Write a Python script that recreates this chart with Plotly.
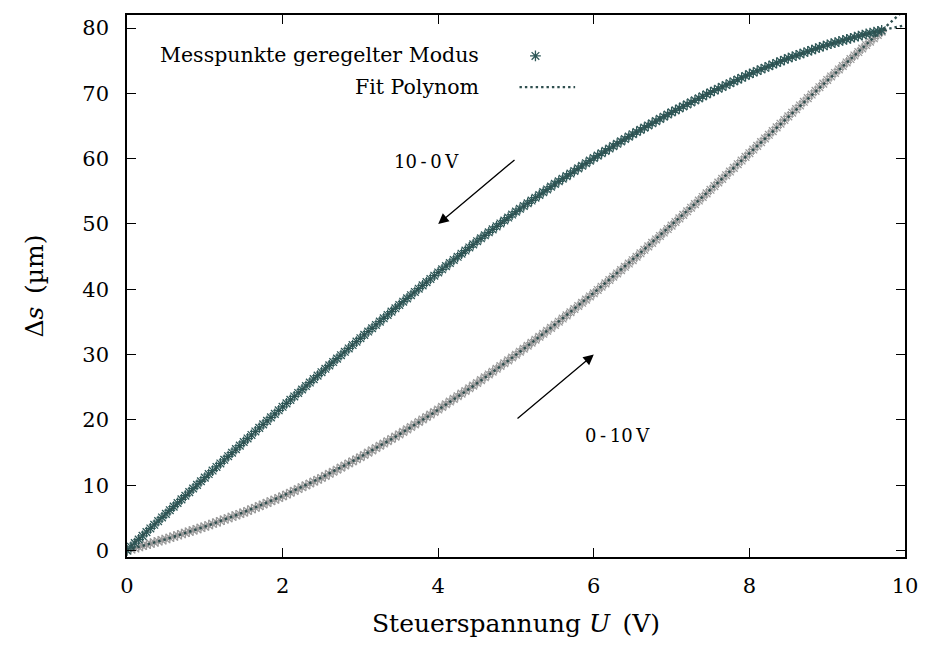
import numpy as np
import plotly.graph_objects as go

# Steuerspannung U (V) – common voltage grid of both sweeps
U = [0.00, 0.05, 0.10, 0.15, 0.20, 0.25, 0.30, 0.35, 0.40, 0.45,
     0.50, 0.55, 0.60, 0.65, 0.70, 0.75, 0.80, 0.85, 0.90, 0.95,
     1.00, 1.05, 1.10, 1.15, 1.20, 1.25, 1.30, 1.35, 1.40, 1.45,
     1.50, 1.55, 1.60, 1.65, 1.70, 1.75, 1.80, 1.85, 1.90, 1.95,
     2.00, 2.05, 2.10, 2.15, 2.20, 2.25, 2.30, 2.35, 2.40, 2.45,
     2.50, 2.55, 2.60, 2.65, 2.70, 2.75, 2.80, 2.85, 2.90, 2.95,
     3.00, 3.05, 3.10, 3.15, 3.20, 3.25, 3.30, 3.35, 3.40, 3.45,
     3.50, 3.55, 3.60, 3.65, 3.70, 3.75, 3.80, 3.85, 3.90, 3.95,
     4.00, 4.05, 4.10, 4.15, 4.20, 4.25, 4.30, 4.35, 4.40, 4.45,
     4.50, 4.55, 4.60, 4.65, 4.70, 4.75, 4.80, 4.85, 4.90, 4.95,
     5.00, 5.05, 5.10, 5.15, 5.20, 5.25, 5.30, 5.35, 5.40, 5.45,
     5.50, 5.55, 5.60, 5.65, 5.70, 5.75, 5.80, 5.85, 5.90, 5.95,
     6.00, 6.05, 6.10, 6.15, 6.20, 6.25, 6.30, 6.35, 6.40, 6.45,
     6.50, 6.55, 6.60, 6.65, 6.70, 6.75, 6.80, 6.85, 6.90, 6.95,
     7.00, 7.05, 7.10, 7.15, 7.20, 7.25, 7.30, 7.35, 7.40, 7.45,
     7.50, 7.55, 7.60, 7.65, 7.70, 7.75, 7.80, 7.85, 7.90, 7.95,
     8.00, 8.05, 8.10, 8.15, 8.20, 8.25, 8.30, 8.35, 8.40, 8.45,
     8.50, 8.55, 8.60, 8.65, 8.70, 8.75, 8.80, 8.85, 8.90, 8.95,
     9.00, 9.05, 9.10, 9.15, 9.20, 9.25, 9.30, 9.35, 9.40, 9.45,
     9.50, 9.55, 9.60, 9.65, 9.70]

# Delta s (um), sweep 10 -> 0 V (upper branch)
ds_down = [0.00, 0.56, 1.12, 1.68, 2.24, 2.81, 3.37, 3.93, 4.49, 5.05,
           5.61, 6.16, 6.72, 7.27, 7.83, 8.38, 8.93, 9.49, 10.04, 10.60,
           11.15, 11.70, 12.24, 12.79, 13.33, 13.88, 14.43, 14.97, 15.52, 16.06,
           16.61, 17.15, 17.69, 18.23, 18.77, 19.31, 19.84, 20.38, 20.92, 21.46,
           22.00, 22.53, 23.06, 23.59, 24.12, 24.65, 25.18, 25.71, 26.24, 26.77,
           27.30, 27.82, 28.34, 28.86, 29.38, 29.90, 30.42, 30.94, 31.46, 31.98,
           32.50, 33.01, 33.52, 34.03, 34.54, 35.05, 35.56, 36.07, 36.58, 37.09,
           37.60, 38.10, 38.60, 39.09, 39.59, 40.09, 40.59, 41.09, 41.58, 42.08,
           42.58, 43.06, 43.54, 44.01, 44.49, 44.97, 45.45, 45.93, 46.40, 46.88,
           47.36, 47.81, 48.27, 48.72, 49.17, 49.63, 50.08, 50.53, 50.98, 51.44,
           51.89, 52.32, 52.74, 53.17, 53.59, 54.02, 54.44, 54.87, 55.29, 55.72,
           56.14, 56.54, 56.93, 57.33, 57.72, 58.12, 58.51, 58.91, 59.30, 59.70,
           60.09, 60.46, 60.82, 61.19, 61.55, 61.92, 62.28, 62.65, 63.01, 63.38,
           63.74, 64.08, 64.41, 64.75, 65.08, 65.42, 65.75, 66.09, 66.42, 66.76,
           67.09, 67.40, 67.70, 68.01, 68.31, 68.62, 68.93, 69.23, 69.54, 69.84,
           70.15, 70.43, 70.71, 70.99, 71.27, 71.55, 71.82, 72.10, 72.38, 72.66,
           72.94, 73.19, 73.43, 73.68, 73.92, 74.17, 74.41, 74.66, 74.90, 75.15,
           75.39, 75.60, 75.80, 76.01, 76.21, 76.42, 76.62, 76.83, 77.03, 77.24,
           77.44, 77.61, 77.77, 77.94, 78.10, 78.27, 78.43, 78.60, 78.76, 78.93,
           79.09, 79.23, 79.37, 79.50, 79.64]

# Delta s (um), sweep 0 -> 10 V (lower branch)
ds_up = [0.00, 0.18, 0.35, 0.53, 0.70, 0.88, 1.05, 1.23, 1.40, 1.58,
         1.75, 1.94, 2.13, 2.32, 2.51, 2.70, 2.89, 3.08, 3.27, 3.46,
         3.65, 3.87, 4.08, 4.30, 4.51, 4.73, 4.94, 5.16, 5.37, 5.59,
         5.80, 6.05, 6.30, 6.54, 6.79, 7.04, 7.29, 7.54, 7.78, 8.03,
         8.28, 8.56, 8.84, 9.13, 9.41, 9.69, 9.97, 10.25, 10.54, 10.82,
         11.10, 11.42, 11.74, 12.05, 12.37, 12.69, 13.01, 13.33, 13.64, 13.96,
         14.28, 14.63, 14.98, 15.33, 15.68, 16.03, 16.38, 16.73, 17.08, 17.43,
         17.78, 18.16, 18.54, 18.92, 19.30, 19.68, 20.06, 20.44, 20.82, 21.20,
         21.58, 21.99, 22.39, 22.80, 23.21, 23.62, 24.02, 24.43, 24.84, 25.24,
         25.65, 26.08, 26.52, 26.95, 27.38, 27.82, 28.25, 28.68, 29.11, 29.55,
         29.98, 30.44, 30.89, 31.35, 31.81, 32.27, 32.72, 33.18, 33.64, 34.09,
         34.55, 35.03, 35.52, 36.00, 36.48, 36.97, 37.45, 37.93, 38.41, 38.90,
         39.38, 39.89, 40.39, 40.90, 41.41, 41.92, 42.42, 42.93, 43.44, 43.94,
         44.45, 44.98, 45.51, 46.04, 46.57, 47.10, 47.63, 48.16, 48.69, 49.22,
         49.75, 50.30, 50.85, 51.39, 51.94, 52.49, 53.04, 53.59, 54.13, 54.68,
         55.23, 55.79, 56.35, 56.91, 57.47, 58.03, 58.59, 59.15, 59.71, 60.27,
         60.83, 61.40, 61.96, 62.53, 63.09, 63.66, 64.22, 64.79, 65.35, 65.92,
         66.48, 67.04, 67.59, 68.15, 68.71, 69.27, 69.82, 70.38, 70.94, 71.49,
         72.05, 72.59, 73.12, 73.66, 74.19, 74.73, 75.26, 75.80, 76.33, 76.87,
         77.40, 77.91, 78.43, 78.94, 79.45]

x_ticks = [0, 2, 4, 6, 8, 10]
y_ticks = [0, 10, 20, 30, 40, 50, 60, 70, 80]
legend_labels = ["Messpunkte geregelter Modus", "Fit Polynom"]
arrow_labels = ["10\u2009-\u20090\u2009V", "0\u2009-\u200910\u2009V"]

TEAL = "#2f5858"
GRAY = "#9a9a9a"
FITC = "#2f4f4f"
FONT = "'DejaVu Serif', 'Liberation Serif', 'Noto Serif', serif"

# polynomial fits computed from the measured points
U_arr = np.array(U)
p_down = np.polyfit(U_arr, np.array(ds_down), 4)
p_up = np.polyfit(U_arr, np.array(ds_up), 4)
U_fit = np.linspace(0, 10, 301)

MSIZE = 9
MLW = 1.3

fig = go.Figure()
fig.add_trace(go.Scatter(x=U, y=ds_up, mode="markers", showlegend=False,
                         marker=dict(symbol="asterisk-open", size=MSIZE, color=GRAY,
                                     line=dict(width=MLW, color=GRAY))))
fig.add_trace(go.Scatter(x=U, y=ds_down, mode="markers", showlegend=False,
                         marker=dict(symbol="asterisk-open", size=MSIZE, color=TEAL,
                                     line=dict(width=MLW, color=TEAL))))
fig.add_trace(go.Scatter(x=U_fit, y=np.polyval(p_up, U_fit), mode="lines", showlegend=False,
                         line=dict(color=FITC, width=2.4, dash="2.4px,3px")))
fig.add_trace(go.Scatter(x=U_fit, y=np.polyval(p_down, U_fit), mode="lines", showlegend=False,
                         line=dict(color=FITC, width=2.4, dash="2.4px,3px")))

# legend sample marker on an overlay axis (paper-like 0..1)
fig.add_trace(go.Scatter(x=[0.525], y=[0.9245], mode="markers", showlegend=False,
                         xaxis="x2", yaxis="y2",
                         marker=dict(symbol="asterisk-open", size=MSIZE, color=TEAL,
                                     line=dict(width=MLW, color=TEAL))))

axis_common = dict(showline=True, linecolor="black", linewidth=1.5, mirror="ticks",
                   ticks="inside", ticklen=9, tickwidth=1.3, tickcolor="black",
                   showgrid=False, zeroline=False,
                   tickfont=dict(family=FONT, size=21, color="black"))

fig.update_layout(
    width=930, height=645,
    margin=dict(l=127, r=22, t=15, b=87),
    paper_bgcolor="white", plot_bgcolor="white",
    font=dict(family=FONT, color="black"),
    xaxis=dict(range=[0, 10], tickvals=x_ticks, ticklabelstandoff=9,
               title=dict(text="Steuerspannung <i>U</i>\u2002(V)", standoff=18,
                          font=dict(family=FONT, size=25, color="black")),
               **axis_common),
    yaxis=dict(range=[-1, 82], tickvals=y_ticks, ticklabelstandoff=12,
               title=dict(text="\u0394<i>s</i>\u2002(µm)", standoff=32,
                          font=dict(family=FONT, size=25, color="black")),
               **axis_common),
    xaxis2=dict(range=[0, 1], overlaying="x", visible=False, fixedrange=True),
    yaxis2=dict(range=[0, 1], overlaying="y", visible=False, fixedrange=True),
    showlegend=False,
)

# custom legend (text right-aligned, sample on the right as in the original)
fig.add_annotation(x=0.4545, y=0.926, xref="paper", yref="paper", text=legend_labels[0],
                   showarrow=False, xanchor="right", yanchor="middle",
                   font=dict(family=FONT, size=20.5, color="black"))
fig.add_annotation(x=0.4545, y=0.867, xref="paper", yref="paper", text=legend_labels[1],
                   showarrow=False, xanchor="right", yanchor="middle",
                   font=dict(family=FONT, size=20.5, color="black"))
fig.add_shape(type="line", xref="paper", yref="paper", x0=0.5045, x1=0.576, y0=0.867, y1=0.867,
              line=dict(color=FITC, width=2.4, dash="2.4px,3px"))

# arrows and labels
fig.add_annotation(x=4.0, y=50.0, ax=5.0, ay=60.0, xref="x", yref="y", axref="x", ayref="y",
                   text="", showarrow=True, arrowhead=2, arrowsize=1.6, arrowwidth=1.3,
                   arrowcolor="black")
fig.add_annotation(x=6.0, y=30.0, ax=5.0, ay=20.0, xref="x", yref="y", axref="x", ayref="y",
                   text="", showarrow=True, arrowhead=2, arrowsize=1.6, arrowwidth=1.3,
                   arrowcolor="black")
fig.add_annotation(x=3.85, y=59.5, xref="x", yref="y", text=arrow_labels[0], showarrow=False,
                   font=dict(family=FONT, size=18, color="black"))
fig.add_annotation(x=6.3, y=17.6, xref="x", yref="y", text=arrow_labels[1], showarrow=False,
                   font=dict(family=FONT, size=18, color="black"))

fig.write_html("out.html")
